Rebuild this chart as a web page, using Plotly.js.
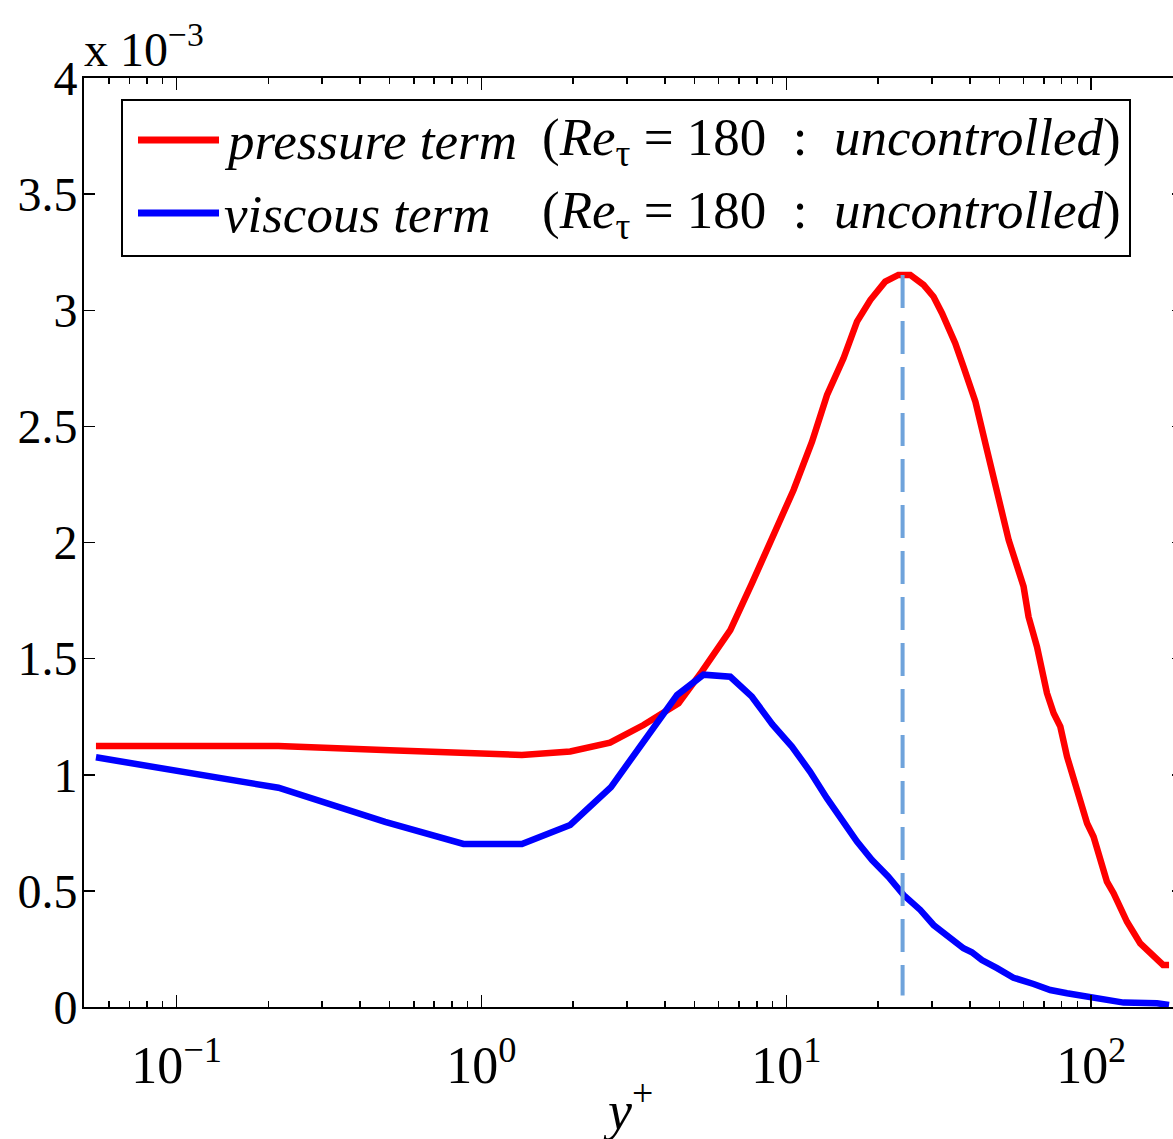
<!DOCTYPE html>
<html><head><meta charset="utf-8">
<script src="https://cdn.plot.ly/plotly-3.0.1.min.js"></script>
<style>
html,body{margin:0;padding:0;overflow:hidden;background:#fff;width:1173px;height:1139px}
#chart{width:1190px;height:1139px}
</style>
</head><body><div id="chart"></div>
<script>
// y+ positions and values (in units of 1e-3)
var pressureX = [0.0544,0.2158,0.50,0.87,1.357,1.955,2.64,3.40,4.43,5.28,6.55,7.71,9.08,10.56,12.14,13.6,15.4,17.05,18.85,21.1,23.3,25.5,28.2,30.4,32.4,35.8,38.1,41.7,45.5,49.7,53.6,60.0,62.3,66.4,71.6,75.3,79.2,83.3,88.7,96.9,101.8,105.7,112.6,118.4,131.0,144.8,164.3,172,180];
var pressureY = [1.124,1.124,1.106,1.093,1.085,1.100,1.138,1.214,1.308,1.444,1.623,1.824,2.025,2.226,2.434,2.635,2.793,2.951,3.044,3.123,3.152,3.152,3.109,3.058,2.987,2.858,2.757,2.606,2.398,2.190,2.011,1.810,1.680,1.551,1.351,1.265,1.207,1.078,0.949,0.791,0.733,0.662,0.540,0.490,0.367,0.274,0.202,0.181,0.181];
var viscousX = [0.0544,0.2158,0.483,0.873,1.357,1.955,2.66,4.38,5.35,6.55,7.71,9.0,10.43,11.97,13.58,15.4,17.05,19.1,21.6,24.25,27.5,30.4,32.8,35.4,38.1,40.6,43.8,49.1,55.6,64.7,73.4,83.3,99.3,112.6,127.7,164.3,180];
var viscousY = [1.075,0.944,0.797,0.702,0.702,0.784,0.947,1.343,1.431,1.422,1.336,1.217,1.121,1.013,0.899,0.798,0.712,0.633,0.561,0.482,0.418,0.353,0.317,0.288,0.253,0.236,0.202,0.167,0.126,0.099,0.073,0.059,0.040,0.030,0.019,0.016,0.009];
// vertical marker at the pressure peak
var peakX = [24.06,24.06];
var peakY = [3.152,0.05];

var xTickVals = [0.1,1,10,100];
var xTickText = ['10<sup>\u22121</sup>','10<sup>0</sup>','10<sup>1</sup>','10<sup>2</sup>'];
var yTickVals = [0,0.5,1,1.5,2,2.5,3,3.5,4];
var yTickText = ['0','0.5','1','1.5','2','2.5','3','3.5','4'];

var seriesNames = ['<i>pressure term</i>','<i>viscous term</i>'];
var seriesNotes = ['(<i>Re</i><sub>\u03c4</sub> = 180 \u00a0:\u00a0 <i>uncontrolled</i>)','(<i>Re</i><sub>\u03c4</sub> = 180 \u00a0:\u00a0 <i>uncontrolled</i>)'];
var seriesColors = ['#ff0000','#0000ff'];

var minorVals = [];
for (var d = -2; d <= 2; d++) { for (var m = 2; m <= 9; m++) { minorVals.push(m * Math.pow(10, d)); } }

var FONT = 'Liberation Serif, Times New Roman, serif';
var W = 1190, H = 1139, ML = 84, MR = 7, MT = 78, MB = 132;
var PW = W - ML - MR, PH = H - MT - MB;
function px(x){ return (x - ML) / PW; }
function py(y){ return (H - MB - y) / PH; }

var traces = [
  {x: pressureX, y: pressureY, type:'scatter', mode:'lines', line:{color:seriesColors[0], width:6.5}, name:seriesNames[0]},
  {x: viscousX, y: viscousY, type:'scatter', mode:'lines', line:{color:seriesColors[1], width:6.5}, name:seriesNames[1]},
  {x: peakX, y: peakY, type:'scatter', mode:'lines', line:{color:'#6fa3db', width:4, dash:'33px,13px'}, showlegend:false}
];

var shapes = [
  {type:'rect', xref:'paper', yref:'paper', x0:px(122), x1:px(1130), y0:py(256), y1:py(100), line:{color:'#000', width:2}, fillcolor:'#fff', layer:'above'},
  {type:'line', xref:'paper', yref:'paper', x0:px(138), x1:px(219), y0:py(140), y1:py(140), line:{color:seriesColors[0], width:7}, layer:'above'},
  {type:'line', xref:'paper', yref:'paper', x0:px(138), x1:px(219), y0:py(213), y1:py(213), line:{color:seriesColors[1], width:7}, layer:'above'}
];

var annFont = {family: FONT, size: 53, color:'#000'};
var annotations = [
  {xref:'paper', yref:'paper', x:px(222), y:py(141), xanchor:'left', yanchor:'middle', text:seriesNames[0], showarrow:false, font:annFont},
  {xref:'paper', yref:'paper', x:px(540), y:py(141), xanchor:'left', yanchor:'middle', text:seriesNotes[0], showarrow:false, font:annFont},
  {xref:'paper', yref:'paper', x:px(222), y:py(214), xanchor:'left', yanchor:'middle', text:seriesNames[1], showarrow:false, font:annFont},
  {xref:'paper', yref:'paper', x:px(540), y:py(214), xanchor:'left', yanchor:'middle', text:seriesNotes[1], showarrow:false, font:annFont},
  {xref:'paper', yref:'paper', x:px(82), y:py(78), xanchor:'left', yanchor:'bottom', text:'x 10<sup>\u22123</sup>', showarrow:false, font:{family:FONT, size:48, color:'#000'}},
  {xref:'paper', yref:'paper', x:px(628), y:py(1070), xanchor:'center', yanchor:'top', text:'<i>y</i><sup>+</sup>', showarrow:false, font:{family:FONT, size:54, color:'#000'}}
];

var axisCommon = {
  showline:true, linewidth:2, linecolor:'#000', mirror:'allticks', showgrid:false, zeroline:false,
  ticks:'inside', tickcolor:'#000', tickwidth:1.5
};

var layout = {
  width: W, height: H,
  margin: {l:ML, r:MR, t:MT, b:MB, pad:0},
  paper_bgcolor:'#fff', plot_bgcolor:'#fff',
  showlegend:false,
  xaxis: Object.assign({}, axisCommon, {
    type:'log', range:[Math.log10(0.0497), Math.log10(200)],
    tickmode:'array', tickvals:xTickVals, ticktext:xTickText, ticklen:12,
    tickfont:{family:FONT, size:52, color:'#000'}, ticklabelstandoff:12,
    minor:{tickmode:'array', tickvals:minorVals, ticks:'inside', ticklen:6, tickwidth:1.5, tickcolor:'#000', showgrid:false}
  }),
  yaxis: Object.assign({}, axisCommon, {
    range:[0,4], tickmode:'array', tickvals:yTickVals, ticktext:yTickText, ticklen:11,
    tickfont:{family:FONT, size:48, color:'#000'}, ticklabelstandoff:-5
  }),
  shapes: shapes,
  annotations: annotations
};

Plotly.newPlot('chart', traces, layout, {staticPlot:true, displayModeBar:false});
</script></body></html>
